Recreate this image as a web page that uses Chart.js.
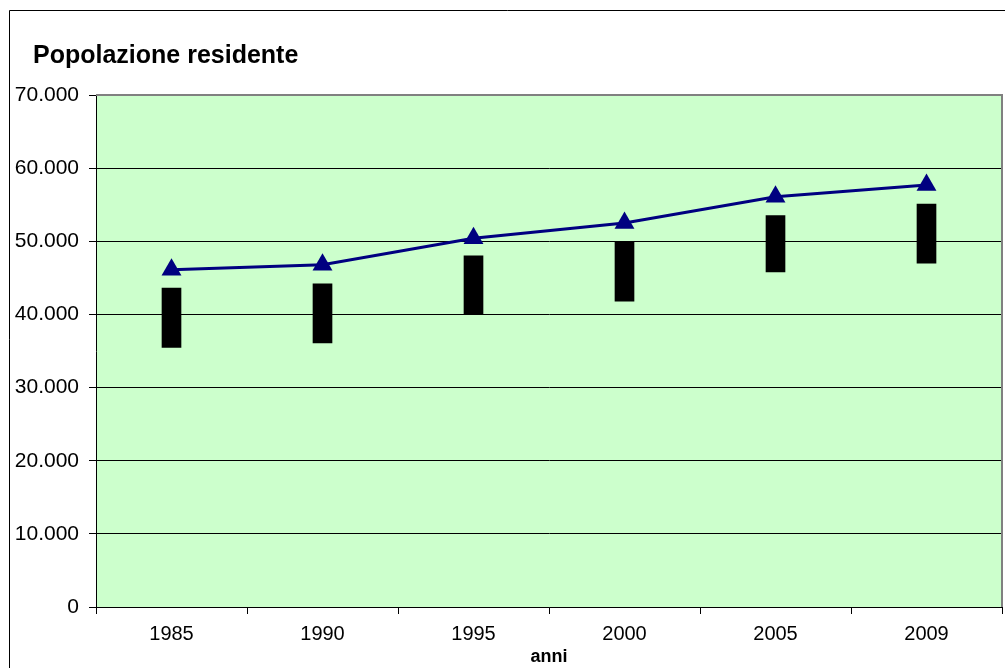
<!DOCTYPE html>
<html lang="it">
<head>
<meta charset="utf-8">
<title>Popolazione residente</title>
<script src="https://cdn.jsdelivr.net/npm/chart.js@4.4.1/dist/chart.umd.min.js"></script>
<style>
    html, body { margin: 0; padding: 0; background: #ffffff; overflow: hidden; }
    #chart { display: block; }
</style>
</head>
<body>
<canvas id="chart" width="1005" height="668"></canvas>
<script>
// Dati
const anni = ['1985', '1990', '1995', '2000', '2005', '2009'];
const popolazione = [46100, 46800, 50400, 52500, 56100, 57700];
const barreMin = [35500, 36100, 40000, 41800, 45800, 47000];
const barreMax = [43600, 44200, 48000, 49900, 53500, 55100];
const yTicks = [0, 10000, 20000, 30000, 40000, 50000, 60000, 70000];

const colori = {
    area: '#ccffcc',
    linea: '#000080',
    barre: '#000000',
    bordoArea: '#808080',
    testo: '#000000'
};

// formato italiano: 70.000
function formatta(v) {
    return String(v).replace(/\B(?=(\d{3})+(?!\d))/g, '.');
}

// sfondo verde dell'area del grafico + bordo esterno
const sfondoPlugin = {
    id: 'sfondo',
    afterLayout(chart) {
        // titolo spostato a destra come nell'originale
        if (chart.titleBlock) {
            chart.titleBlock.left = 33;
        }
    },
    beforeDraw(chart) {
        const { ctx, chartArea } = chart;
        ctx.save();
        ctx.fillStyle = colori.area;
        ctx.fillRect(chartArea.left, chartArea.top, chartArea.right - chartArea.left, chartArea.bottom - chartArea.top);
        ctx.restore();
    },
    beforeDatasetsDraw(chart) {
        const { ctx, chartArea } = chart;
        ctx.save();
        ctx.strokeStyle = colori.bordoArea;
        ctx.lineWidth = 2;
        ctx.beginPath();
        ctx.moveTo(chartArea.left, chartArea.top);
        ctx.lineTo(chartArea.right, chartArea.top);
        ctx.lineTo(chartArea.right, chartArea.bottom);
        ctx.stroke();
        ctx.restore();
    },
    afterDraw(chart) {
        const { ctx } = chart;
        ctx.save();
        ctx.strokeStyle = '#000000';
        ctx.lineWidth = 1;
        ctx.beginPath();
        ctx.moveTo(9.5, 668);
        ctx.lineTo(9.5, 10.5);
        ctx.lineTo(1005, 10.5);
        ctx.stroke();
        ctx.restore();
    }
};

Chart.defaults.font.family = '"Liberation Sans", Arial, sans-serif';
Chart.defaults.color = colori.testo;

new Chart(document.getElementById('chart'), {
    type: 'bar',
    data: {
        labels: anni,
        datasets: [
            {
                type: 'line',
                label: 'Popolazione residente',
                data: popolazione,
                borderColor: colori.linea,
                backgroundColor: colori.linea,
                borderWidth: 3,
                pointStyle: 'triangle',
                pointRadius: 11.5,
                pointBorderWidth: 0,
                tension: 0,
                order: 0
            },
            {
                type: 'bar',
                label: 'Intervallo',
                data: anni.map((a, i) => [barreMin[i], barreMax[i]]),
                backgroundColor: colori.barre,
                borderWidth: 0,
                barThickness: 19,
                order: 1
            }
        ]
    },
    options: {
        responsive: false,
        animation: false,
        layout: {
            autoPadding: false,
            padding: { left: 0, right: 3, top: 0, bottom: 0 }
        },
        plugins: {
            legend: { display: false },
            tooltip: { enabled: false },
            title: {
                display: true,
                text: 'Popolazione residente',
                align: 'start',
                color: colori.testo,
                font: { size: 25, weight: 'bold' },
                padding: { top: 41, bottom: 24 }
            }
        },
        scales: {
            x: {
                offset: true,
                grid: {
                    offset: true,
                    drawOnChartArea: false,
                    color: '#000000',
                    tickLength: 7
                },
                border: { color: '#000000', width: 1 },
                ticks: {
                    font: { size: 20 },
                    color: colori.testo,
                    padding: 8,
                    maxRotation: 0
                },
                title: {
                    display: true,
                    text: 'anni',
                    color: colori.testo,
                    font: { size: 18, weight: 'bold' },
                    padding: { top: 0, bottom: 0 }
                },
                afterFit(scale) {
                    scale.height = 61;
                    scale.paddingLeft = 0;
                    scale.paddingRight = 0;
                }
            },
            y: {
                min: 0,
                max: 70000,
                afterBuildTicks(scale) {
                    scale.ticks = yTicks.map(v => ({ value: v }));
                },
                grid: {
                    color: ctx => (ctx.tick && ctx.tick.value === 70000) ? colori.bordoArea : '#000000',
                    tickColor: '#000000',
                    tickLength: 7
                },
                border: { color: '#000000', width: 1 },
                ticks: {
                    font: { size: 21 },
                    color: colori.testo,
                    padding: 10,
                    callback: v => formatta(v)
                },
                afterFit(scale) { scale.width = 96; }
            }
        }
    },
    plugins: [sfondoPlugin]
});
</script>
</body>
</html>
